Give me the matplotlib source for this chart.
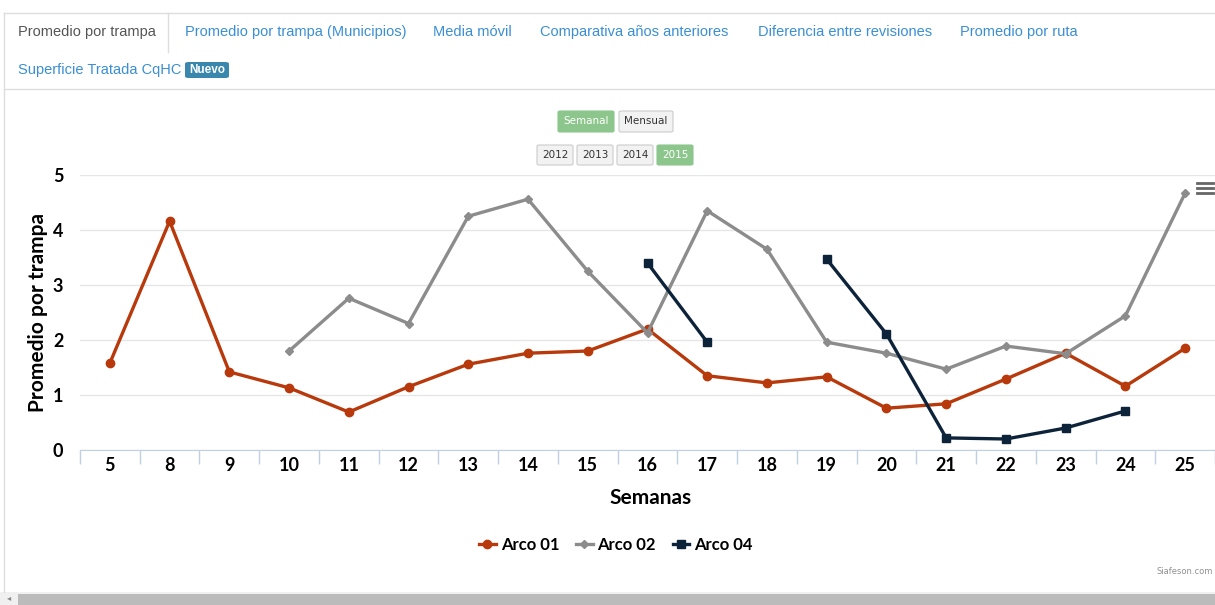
import numpy as np
import matplotlib
matplotlib.use("Agg")
import matplotlib.pyplot as plt
from matplotlib.patches import FancyBboxPatch, Rectangle
from matplotlib.lines import Line2D

# ---- data ----
weeks = ["5", "8", "9", "10", "11", "12", "13", "14", "15", "16", "17",
         "18", "19", "20", "21", "22", "23", "24", "25"]
arco01 = [1.58, 4.16, 1.42, 1.13, 0.69, 1.15, 1.56, 1.76, 1.80, 2.20, 1.35,
          1.22, 1.33, 0.76, 0.84, 1.29, 1.76, 1.16, 1.85]
arco02 = [None, None, None, 1.80, 2.76, 2.30, 4.25, 4.56, 3.25, 2.13, 4.35,
          3.65, 1.96, 1.76, 1.47, 1.89, 1.75, 2.44, 4.67]
arco04 = [None, None, None, None, None, None, None, None, None, 3.40, 1.96,
          None, 3.47, 2.11, 0.22, 0.20, 0.40, 0.71, None]
series_names = ["Arco 01", "Arco 02", "Arco 04"]
series_colors = ["#B8390B", "#8C8C8C", "#0D233A"]
series_markers = ["o", "D", "s"]
yticks = [0, 1, 2, 3, 4, 5]
tabs_row1 = ["Promedio por trampa", "Promedio por trampa (Municipios)", "Media móvil",
             "Comparativa años anteriores", "Diferencia entre revisiones", "Promedio por ruta"]
tab_x = [18, 185, 433, 540, 758, 960]
years = ["2012", "2013", "2014", "2015"]

W, H = 1215, 605
fig = plt.figure(figsize=(W / 100, H / 100), dpi=100)
FONT = "Lato"

def fx(x):
    return x / W

def fy(y):
    return 1 - y / H

# ---- plot area ----
left_px, right_px, top_px, bot_px = 80, 1215, 175, 450
ax = fig.add_axes([fx(left_px), fy(bot_px), fx(right_px - left_px), (bot_px - top_px) / H])
x = np.arange(len(weeks))

def arr(v):
    return np.array([np.nan if a is None else a for a in v], dtype=float)

for vals, name, col, mk in zip([arco01, arco02, arco04], series_names, series_colors, series_markers):
    ms = 6 if mk == "o" else (4.5 if mk == "D" else 6)
    ax.plot(x, arr(vals), color=col, lw=2.4, marker=mk, ms=ms, mec=col, mfc=col,
            label=name, clip_on=False, zorder=3)

ax.set_xlim(-0.5, -0.5 + (right_px - left_px) / 60)
ax.set_ylim(0, 5)
ax.set_yticks(yticks)
ax.set_yticklabels([str(t) for t in yticks], fontfamily=FONT, fontweight="bold", fontsize=13)
ax.set_xticks(x)
ax.set_xticklabels(weeks, fontfamily=FONT, fontweight="bold", fontsize=13)
ax.set_xticks(np.arange(len(weeks) + 1) - 0.5, minor=True)
ax.tick_params(axis="x", which="major", length=0, pad=5, colors="black")
ax.tick_params(axis="x", which="minor", length=10, width=1, color="#C0D0E0")
ax.tick_params(axis="y", length=0, pad=12)
for s in ["top", "right", "left"]:
    ax.spines[s].set_visible(False)
ax.spines["bottom"].set_color("#C0D0E0")
ax.grid(axis="y", color="#E6E6E6", lw=1)
ax.set_axisbelow(True)

fig.text(fx(38), fy(313), "Promedio por trampa", rotation=90, ha="center", va="center",
         fontfamily=FONT, fontweight="bold", fontsize=15)
fig.text(fx(651), fy(498), "Semanas", ha="center", va="center",
         fontfamily=FONT, fontweight="bold", fontsize=15)

# legend
handles = [Line2D([0], [0], color=c, lw=2.4, marker=m, ms=(6 if m != "D" else 4.5), mfc=c, mec=c)
           for c, m in zip(series_colors, series_markers)]
fig.legend(handles, series_names, loc="center", bbox_to_anchor=(fx(616), fy(545)), ncol=3,
           frameon=False, handlelength=1.0, columnspacing=1.0, handletextpad=0.3,
           prop={"family": FONT, "weight": "bold", "size": 12})

fig.text(fx(1213), fy(572), "Siafeson.com", ha="right", va="center", fontsize=6,
         color="#909090", fontfamily="Liberation Sans Narrow")

# menu icon
for dy in (-5, 0, 5):
    fig.add_artist(Line2D([fx(1197), fx(1213)], [fy(188 + dy)] * 2, color="#666666", lw=2.0))

# ---- UI chrome ----
lc = "#DDDDDD"
fig.add_artist(Line2D([fx(4), fx(W)], [fy(13)] * 2, color=lc, lw=1))
fig.add_artist(Line2D([fx(4), fx(W)], [fy(89)] * 2, color=lc, lw=1))
fig.add_artist(Line2D([fx(4), fx(4)], [fy(13), fy(592)], color=lc, lw=1))
fig.add_artist(Line2D([fx(168), fx(168)], [fy(13), fy(52)], color=lc, lw=1))

for i, (t, xx) in enumerate(zip(tabs_row1, tab_x)):
    fig.text(fx(xx), fy(32), t, ha="left", va="center", fontsize=10.5,
             fontfamily="Liberation Sans", color="#555555" if i == 0 else "#3A8FD4")
fig.text(fx(18), fy(70), "Superficie Tratada CqHC", ha="left", va="center", fontsize=10.5,
         fontfamily="Liberation Sans", color="#3A8FD4")
fig.add_artist(FancyBboxPatch((fx(185), fy(78)), fx(44), 16 / H,
                              boxstyle="round,pad=0,rounding_size=0.003",
                              fc="#3A87AD", ec="none", transform=fig.transFigure))
fig.text(fx(207), fy(70), "Nuevo", ha="center", va="center", fontsize=8.5,
         fontfamily="Liberation Sans", fontweight="bold", color="white")

def button(x0, x1, y0, y1, label, active):
    fc = "#8CC68C" if active else "#F2F2F2"
    ec = "#8CC68C" if active else "#CCCCCC"
    fig.add_artist(FancyBboxPatch((fx(x0), fy(y1)), fx(x1 - x0), (y1 - y0) / H,
                                  boxstyle="round,pad=0,rounding_size=0.002",
                                  fc=fc, ec=ec, lw=0.8, transform=fig.transFigure))
    fig.text(fx((x0 + x1) / 2), fy((y0 + y1) / 2), label, ha="center", va="center",
             fontsize=7.5, fontfamily="Liberation Sans Narrow",
             color="white" if active else "#333333")

button(558, 614, 111, 132, "Semanal", True)
button(619, 673, 111, 132, "Mensual", False)
for i, (yr, x0) in enumerate(zip(years, [537, 577, 617, 657])):
    button(x0, x0 + 36, 145, 165, yr, i == 3)

# scrollbar
fig.add_artist(Rectangle((fx(0), 0), 1, 13 / H, fc="#F0F0F0", ec="none", transform=fig.transFigure))
fig.add_artist(Rectangle((fx(18), 0), fx(1197), 11 / H, fc="#BBBBBB", ec="none", transform=fig.transFigure))
fig.text(fx(9), fy(598), "◂", ha="center", va="center", fontsize=6, color="#888888")

fig.savefig("out.png", dpi=100, facecolor="white")
